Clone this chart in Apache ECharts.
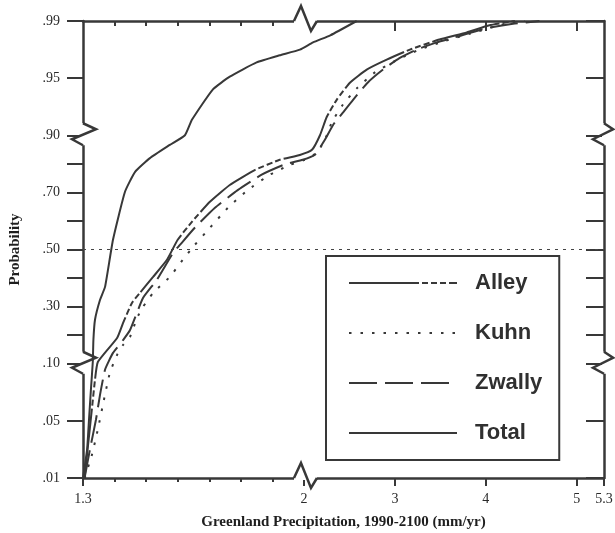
<!DOCTYPE html>
<html>
<head>
<meta charset="utf-8">
<script src="https://cdn.jsdelivr.net/npm/echarts@6/dist/echarts.min.js"></script>
<style>
html, body { margin: 0; padding: 0; background: #fff; }
#chart { width: 615px; height: 533px; }
</style>
</head>
<body>
<div id="chart"></div>
<script>
// Tick values (precipitation in mm/yr, cumulative probability)
const xTicks = [1.3, 2, 3, 4, 5, 5.3];
const xMinorTicks = [1.4, 1.5, 1.6, 1.7, 1.8, 1.9];
const probTicks = [0.01, 0.05, 0.10, 0.30, 0.50, 0.70, 0.90, 0.95, 0.99];
const probTickLabels = ['.01', '.05', '.10', '.30', '.50', '.70', '.90', '.95', '.99'];
const probMinorTicks = [0.20, 0.40, 0.60, 0.80];
const seriesNames = ['Alley', 'Kuhn', 'Zwally', 'Total'];

// Cumulative distributions
const alleyX = [1.305, 1.316, 1.328, 1.338, 1.347, 1.408, 1.427, 1.455, 1.48, 1.522, 1.566, 1.60, 1.645, 1.702, 1.765, 1.844, 1.923, 1.987, 2.088, 2.176, 2.25, 2.36, 2.505, 2.69, 2.91, 3.165, 3.49, 3.79, 4.04, 4.32];
const alleyP = [0.01, 0.033, 0.06, 0.086, 0.106, 0.19, 0.243, 0.313, 0.348, 0.404, 0.464, 0.534, 0.597, 0.667, 0.726, 0.778, 0.814, 0.831, 0.849, 0.90, 0.916, 0.931, 0.946, 0.956, 0.963, 0.97, 0.977, 0.982, 0.987, 0.99];

const kuhnX = [1.305, 1.328, 1.347, 1.366, 1.385, 1.408, 1.427, 1.449, 1.471, 1.49, 1.522, 1.575, 1.616, 1.654, 1.702, 1.759, 1.822, 1.892, 1.955, 2.01, 2.14, 2.23, 2.31, 2.43, 2.58, 2.78, 3.0, 3.27, 3.55, 3.82, 4.15, 4.43];
const kuhnP = [0.01, 0.026, 0.044, 0.068, 0.092, 0.131, 0.166, 0.194, 0.26, 0.299, 0.348, 0.404, 0.464, 0.516, 0.576, 0.646, 0.708, 0.762, 0.796, 0.814, 0.838, 0.884, 0.912, 0.927, 0.941, 0.954, 0.962, 0.97, 0.976, 0.981, 0.987, 0.99];

const zwallyX = [1.305, 1.322, 1.341, 1.354, 1.37, 1.395, 1.427, 1.449, 1.49, 1.534, 1.585, 1.607, 1.654, 1.718, 1.79, 1.866, 1.939, 1.996, 2.12, 2.23, 2.32, 2.43, 2.54, 2.70, 2.87, 3.05, 3.24, 3.46, 3.68, 4.01, 4.30, 4.59];
const zwallyP = [0.01, 0.03, 0.051, 0.073, 0.095, 0.138, 0.183, 0.218, 0.33, 0.394, 0.488, 0.516, 0.576, 0.646, 0.708, 0.762, 0.798, 0.814, 0.832, 0.884, 0.909, 0.92, 0.931, 0.946, 0.956, 0.964, 0.97, 0.975, 0.979, 0.985, 0.988, 0.99];

const totalX = [1.3, 1.313, 1.319, 1.325, 1.331, 1.333, 1.338, 1.354, 1.37, 1.395, 1.433, 1.465, 1.512, 1.575, 1.623, 1.645, 1.711, 1.765, 1.85, 1.923, 1.987, 2.1, 2.29, 2.58];
const totalP = [0.01, 0.03, 0.051, 0.077, 0.106, 0.184, 0.254, 0.324, 0.37, 0.534, 0.702, 0.772, 0.82, 0.866, 0.90, 0.9135, 0.94, 0.951, 0.961, 0.966, 0.97, 0.975, 0.98, 0.99];

const medianP = 0.50;

// Broken x scale: 1.3–2 stretched, 2–5.3 compressed
const X_BREAK = 2;
const X_RATIO = 2.88;
function xToU(x) {
  return x <= X_BREAK ? (x - 1.3) * 10 : 7 + (x - X_BREAK) * X_RATIO;
}
// Probability paper: equal spacing between labelled probabilities
function pToV(p) {
  for (let i = 0; i < probTicks.length - 1; i++) {
    const a = probTicks[i], b = probTicks[i + 1];
    if (p <= b + 1e-9) return i + (p - a) / (b - a);
  }
  return probTicks.length - 1;
}
const near = (a, b) => Math.abs(a - b) < 1e-6;

const ink = '#383838';
const serif = '"Liberation Serif", "Times New Roman", serif';
const sans = '"Liberation Sans", Arial, sans-serif';

function pairs(xs, ps) { return xs.map((x, i) => [xToU(x), pToV(ps[i])]); }

const uMax = xToU(5.3);
const vMax = probTicks.length - 1;
const yAll = probTicks.concat(probMinorTicks).map(pToV);

function lineSeries(name, xs, ps, type) {
  return {
    name, type: 'line', data: pairs(xs, ps),
    showSymbol: false, symbol: 'none',
    smooth: 0.15,
    lineStyle: { color: ink, width: 2, type },
    itemStyle: { color: ink },
    emphasis: { disabled: true },
    z: 3
  };
}

const chart = echarts.init(document.getElementById('chart'));
const baseX = { type: 'value', min: 0, max: uMax, splitLine: { show: false } };
const baseY = { type: 'value', min: 0, max: vMax, splitLine: { show: false } };

chart.setOption({
  animation: false,
  grid: { left: 83, right: 11, top: 21, bottom: 55, outerBoundsMode: 'none' },
  legend: {
    orient: 'vertical', left: 326, top: 256,
    data: seriesNames,
    itemWidth: 108, itemHeight: 14, itemGap: 28,
    padding: [16, 17, 16, 22],
    borderColor: ink, borderWidth: 2, backgroundColor: '#fff',
    itemStyle: { opacity: 0 },
    textStyle: { fontFamily: sans, fontSize: 22, fontWeight: 'bold', color: '#303030', padding: [0, 0, 0, 13] },
    selectedMode: false
  },
  xAxis: [
    Object.assign({}, baseX, {
      position: 'bottom',
      name: 'Greenland Precipitation, 1990-2100 (mm/yr)', nameLocation: 'middle', nameGap: 37,
      nameTextStyle: { fontFamily: serif, fontSize: 15, fontWeight: 'bold', color: '#1e1e1e' },
      axisLine: { show: true, onZero: false, lineStyle: { color: ink, width: 2.5 } },
      axisTick: { show: true, inside: false, length: 8, customValues: xTicks.map(xToU), lineStyle: { color: ink, width: 2 } },
      axisLabel: {
        show: true, margin: 14, customValues: xTicks.map(xToU),
        fontFamily: serif, fontSize: 14, color: '#2a2a2a',
        formatter: v => { const t = xTicks.find(x => near(xToU(x), v)); return t === undefined ? '' : String(t); }
      }
    }),
    Object.assign({}, baseX, {
      position: 'top',
      axisLine: { show: true, onZero: false, lineStyle: { color: ink, width: 2.5 } },
      axisTick: { show: true, inside: true, length: 10, customValues: [3, 4, 5].map(xToU), lineStyle: { color: ink, width: 2 } },
      axisLabel: { show: false }
    }),
    Object.assign({}, baseX, {
      position: 'bottom',
      axisLine: { show: false, onZero: false },
      axisTick: { show: true, inside: false, length: 4, customValues: xMinorTicks.map(xToU), lineStyle: { color: ink, width: 2 } },
      axisLabel: { show: false }
    }),
    Object.assign({}, baseX, {
      position: 'top',
      axisLine: { show: false, onZero: false },
      axisTick: { show: true, inside: true, length: 5, customValues: xMinorTicks.map(xToU), lineStyle: { color: ink, width: 2 } },
      axisLabel: { show: false }
    })
  ],
  yAxis: [
    Object.assign({}, baseY, {
      position: 'left',
      name: 'Probability', nameLocation: 'middle', nameGap: 60,
      nameTextStyle: { fontFamily: serif, fontSize: 15, fontWeight: 'bold', color: '#1e1e1e' },
      axisLine: { show: true, onZero: false, lineStyle: { color: ink, width: 2.5 } },
      axisTick: { show: true, inside: false, length: 16, customValues: yAll, lineStyle: { color: ink, width: 2 } },
      axisLabel: {
        show: true, margin: 23, customValues: probTicks.map(pToV),
        fontFamily: serif, fontSize: 14, color: '#2a2a2a',
        formatter: v => { const i = probTicks.findIndex(p => near(pToV(p), v)); return i < 0 ? '' : probTickLabels[i]; }
      }
    }),
    Object.assign({}, baseY, {
      position: 'right',
      axisLine: { show: true, onZero: false, lineStyle: { color: ink, width: 2.5 } },
      axisTick: { show: true, inside: true, length: 18, customValues: yAll, lineStyle: { color: ink, width: 2 } },
      axisLabel: { show: false }
    })
  ],
  series: [
    lineSeries('Alley', alleyX, alleyP, [70, 3, 6, 3, 6, 3, 6, 3]),
    lineSeries('Kuhn', kuhnX, kuhnP, [2.5, 9]),
    lineSeries('Zwally', zwallyX, zwallyP, [28, 8]),
    Object.assign(lineSeries('Total', totalX, totalP, 'solid'), {
      markLine: {
        silent: true, symbol: 'none', label: { show: false },
        lineStyle: { color: '#444', width: 1, type: [3, 5] },
        data: [{ yAxis: pToV(medianP) }]
      }
    })
  ]
});

// Axis break glyphs
const xL = chart.convertToPixel({ xAxisIndex: 0 }, 0);
const xR = chart.convertToPixel({ xAxisIndex: 0 }, uMax);
const xB = chart.convertToPixel({ xAxisIndex: 0 }, xToU(X_BREAK));
const yT = chart.convertToPixel({ yAxisIndex: 0 }, vMax);
const yB = chart.convertToPixel({ yAxisIndex: 0 }, 0);
const yHi = chart.convertToPixel({ yAxisIndex: 0 }, pToV(0.90));
const yLo = chart.convertToPixel({ yAxisIndex: 0 }, pToV(0.10));

function vBreak(x, y, w) {
  return [
    { type: 'rect', z: 100, shape: { x: x - 2, y: y - 12, width: 4, height: 22 }, style: { fill: '#fff' } },
    { type: 'polyline', z: 101, shape: { points: [[x, y - 12], [x + w, y - 6], [x - 11, y + 4], [x, y + 10]] },
      style: { stroke: ink, lineWidth: 2.5, fill: null } }
  ];
}
function hBreak(x, y) {
  return [
    { type: 'rect', z: 100, shape: { x: x - 10, y: y - 2, width: 23, height: 4 }, style: { fill: '#fff' } },
    { type: 'polyline', z: 101, shape: { points: [[x - 10, y], [x - 3, y - 15], [x + 7, y + 10], [x + 13, y]] },
      style: { stroke: ink, lineWidth: 2.5, fill: null } }
  ];
}
chart.setOption({
  graphic: [].concat(
    vBreak(xL, yHi, 13), vBreak(xL, yLo, 13), vBreak(xR, yHi, 9), vBreak(xR, yLo, 9),
    hBreak(xB, yT), hBreak(xB, yB)
  )
});
</script>
</body>
</html>
